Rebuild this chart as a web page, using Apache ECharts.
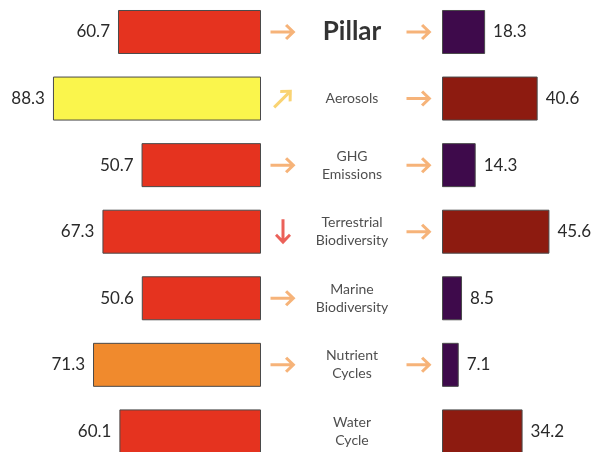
<!DOCTYPE html>
<html>
<head>
<meta charset="utf-8">
<script src="https://cdn.jsdelivr.net/npm/echarts@6/dist/echarts.min.js"></script>
<style>
  html, body { margin: 0; padding: 0; background: #ffffff; }
  #chart { width: 593px; height: 452px; }
</style>
</head>
<body>
<div id="chart"></div>
<script>
// Planetary pillars: current score (left) and projected score (right)
const pillars = ['Pillar', 'Aerosols', 'GHG\nEmissions', 'Terrestrial\nBiodiversity',
                 'Marine\nBiodiversity', 'Nutrient\nCycles', 'Water\nCycle'];
const currentScores = [60.7, 88.3, 50.7, 67.3, 50.6, 71.3, 60.1];
const projectedScores = [18.3, 40.6, 14.3, 45.6, 8.5, 7.1, 34.2];
// Trend direction shown beside each bar (null = no arrow)
const currentTrend = ['flat', 'up', 'flat', 'down', 'flat', 'flat', null];
const projectedTrend = ['flat', 'flat', 'flat', 'flat', null, 'flat', null];

// Stepped colour scale applied to scores
function scoreColor(v) {
  if (v < 25) return '#3E0A4B';
  if (v < 50) return '#8D1B10';
  if (v < 70) return '#E5331F';
  if (v < 80) return '#F08A2D';
  return '#FAF54C';
}

const trendStyle = {
  flat: { rotate: 0, color: '#F4A058' },
  up: { rotate: 45, color: '#F8C850' },
  down: { rotate: -90, color: '#E63A30' }
};

// Right-pointing arrow outline (24 x 16 box)
const ARROW = 'path://M0,6.5 L18.4,6.5 L13.9,2 L16,0 L24,8 L16,16 L13.9,14 L18.4,9.5 L0,9.5 Z';

const FONT = 'Lato, "Noto Sans", sans-serif';
const PX_PER_UNIT = 2.356;
const MID_LEFT = 262, MID_WIDTH = 180;
const LEFT_MAX = 100, RIGHT_MAX = 60;
// Rows run slightly past the bottom edge of the canvas
const ROW_TOP = -1.3, ROW_SPAN = 466;

function arrowData(trend, x) {
  const out = [];
  trend.forEach((t, i) => {
    if (!t) return;
    const s = trendStyle[t];
    out.push({ value: [x, i], symbolRotate: s.rotate, itemStyle: { color: s.color } });
  });
  return out;
}

const chart = echarts.init(document.getElementById('chart'), null, { renderer: 'canvas' });

const yCat = (gridIndex) => ({
  type: 'category', gridIndex, data: pillars, inverse: true,
  axisLine: { show: false }, axisTick: { show: false }, axisLabel: { show: false },
  splitLine: { show: false }
});

const gridAt = (left, width) => ({
  left, width, top: ROW_TOP, height: ROW_SPAN, outerBoundsMode: 'none', containLabel: false
});

const barLabel = (pos) => ({
  show: true, position: pos, distance: 8,
  fontFamily: FONT, fontSize: 17, color: '#2a2a2a',
  formatter: (p) => p.value.toFixed(1)
});

chart.setOption({
  animation: false,
  backgroundColor: '#ffffff',
  grid: [
    gridAt(MID_LEFT - 1 - LEFT_MAX * PX_PER_UNIT, LEFT_MAX * PX_PER_UNIT),
    gridAt(MID_LEFT, MID_WIDTH),
    gridAt(MID_LEFT + MID_WIDTH, RIGHT_MAX * PX_PER_UNIT)
  ],
  xAxis: [
    { type: 'value', gridIndex: 0, min: 0, max: LEFT_MAX, inverse: true, show: false },
    { type: 'value', gridIndex: 1, min: 0, max: MID_WIDTH, show: false },
    { type: 'value', gridIndex: 2, min: 0, max: RIGHT_MAX, show: false }
  ],
  yAxis: [yCat(0), yCat(1), yCat(2)],
  series: [
    {
      type: 'bar', xAxisIndex: 0, yAxisIndex: 0, barWidth: 44,
      data: currentScores,
      itemStyle: { color: (p) => scoreColor(p.value), borderColor: '#4a4a4a', borderWidth: 1 },
      label: barLabel('left')
    },
    {
      type: 'bar', xAxisIndex: 2, yAxisIndex: 2, barWidth: 44,
      data: projectedScores,
      itemStyle: { color: (p) => scoreColor(p.value), borderColor: '#4a4a4a', borderWidth: 1 },
      label: barLabel('right')
    },
    {
      // pillar names in the centre column
      type: 'scatter', xAxisIndex: 1, yAxisIndex: 1, symbolSize: 0, silent: true,
      data: pillars.map((name, i) => ({ value: [90, i], name })),
      label: {
        show: true, position: 'inside', align: 'center', verticalAlign: 'middle',
        fontFamily: FONT, fontSize: 14, lineHeight: 18, color: '#222222',
        formatter: (p) => p.dataIndex === 0 ? '{head|' + p.name + '}' : p.name,
        rich: { head: { fontFamily: FONT, fontSize: 26, fontWeight: 'bold', color: '#000000' } }
      }
    },
    {
      type: 'scatter', xAxisIndex: 1, yAxisIndex: 1, symbol: ARROW, symbolSize: [25, 16], silent: true,
      data: arrowData(currentTrend, 21)
    },
    {
      type: 'scatter', xAxisIndex: 1, yAxisIndex: 1, symbol: ARROW, symbolSize: [25, 16], silent: true,
      data: arrowData(projectedTrend, 157)
    }
  ]
});
</script>
</body>
</html>
